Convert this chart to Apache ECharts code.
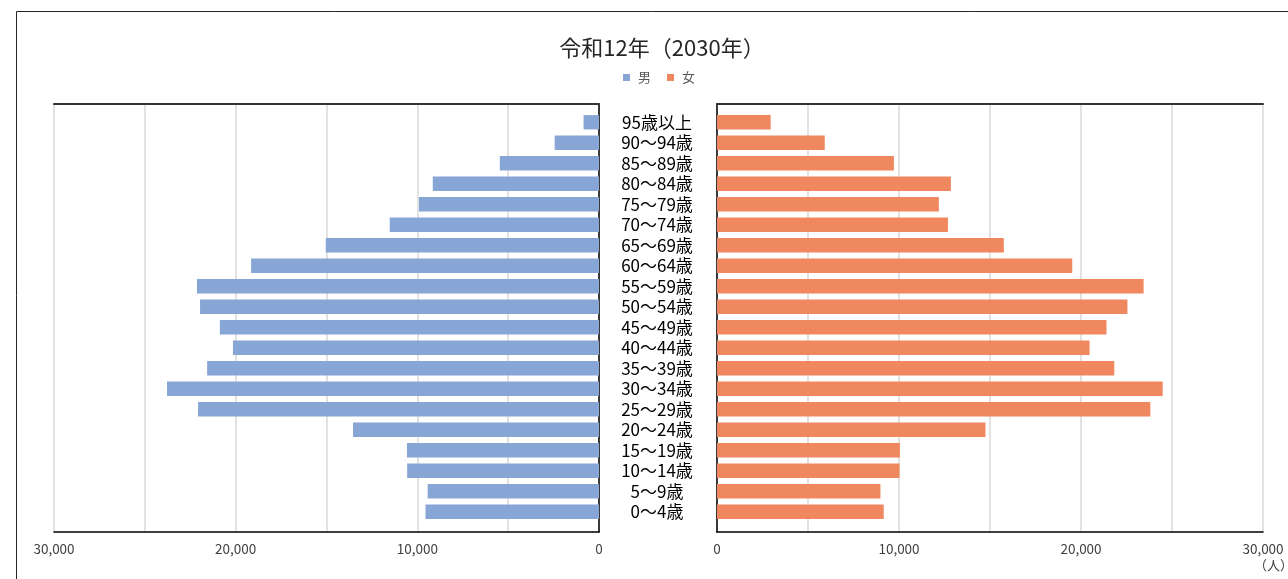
<!DOCTYPE html>
<html>
<head>
<meta charset="utf-8">
<script src="https://cdn.jsdelivr.net/npm/echarts@6/dist/echarts.min.js"></script>
<style>
  html, body { margin: 0; padding: 0; background: #fff; }
  #chart { width: 1288px; height: 579px; }
</style>
</head>
<body>
<div id="chart"></div>
<script>
// Age groups, listed from youngest (bottom) to oldest (top)
const ageGroups = ['0～4歳', '5～9歳', '10～14歳', '15～19歳', '20～24歳', '25～29歳', '30～34歳',
  '35～39歳', '40～44歳', '45～49歳', '50～54歳', '55～59歳', '60～64歳', '65～69歳',
  '70～74歳', '75～79歳', '80～84歳', '85～89歳', '90～94歳', '95歳以上'];

// Projected population (people) for 2030
const male = [9550, 9430, 10560, 10570, 13540, 22070, 23780, 21570, 20150, 20870,
  21960, 22130, 19150, 15040, 11520, 9910, 9150, 5460, 2440, 850];
const female = [9160, 8980, 10030, 10050, 14750, 23810, 24490, 21830, 20470, 21400,
  22550, 23440, 19520, 15760, 12690, 12190, 12850, 9720, 5920, 2950];

const seriesNames = ['男', '女'];
const axisMax = 30000;
const gridStep = 5000;
const labelStep = 10000;

const FONT = '"Noto Sans CJK JP", "Noto Sans", sans-serif';
const MALE_COLOR = '#87a5d5';
const FEMALE_COLOR = '#f0885f';

const tickLabel = v => (v % labelStep === 0 ? v.toLocaleString('en-US') : '');

// Frame grids carry the gridlines and axis lines, bar grids carry the bars
const frameLeft = { left: 54, width: 545, top: 104, height: 428 };
const frameRight = { left: 717, width: 546, top: 104, height: 428 };
const barLeft = { left: 54, width: 545, top: 112, height: 410 };
const barRight = { left: 717, width: 546, top: 112, height: 410 };

function frameX(gridIndex, inverse) {
  return [
    {
      type: 'value', gridIndex, inverse, min: 0, max: axisMax, interval: gridStep,
      position: 'bottom',
      axisLine: { show: true, onZero: false, lineStyle: { color: '#000', width: 1.5 } },
      axisTick: { show: false },
      axisLabel: { formatter: tickLabel, color: '#404040', fontSize: 13.5, fontFamily: FONT, margin: 10 },
      splitLine: { show: true, lineStyle: { color: '#d9d9d9', width: 1.5 } }
    },
    {
      type: 'value', gridIndex, inverse, min: 0, max: axisMax, position: 'top',
      axisLine: { show: true, onZero: false, lineStyle: { color: '#333', width: 2 } },
      axisTick: { show: false }, axisLabel: { show: false }, splitLine: { show: false }
    }
  ];
}

function frameY(gridIndex, position) {
  return {
    type: 'value', gridIndex, min: 0, max: 1, position,
    axisLine: { show: true, onZero: true, lineStyle: { color: '#000', width: 1.5 } },
    axisTick: { show: false }, axisLabel: { show: false }, splitLine: { show: false }
  };
}

function hiddenX(gridIndex, inverse) {
  return { type: 'value', gridIndex, inverse, min: 0, max: axisMax, show: false };
}

const option = {
  backgroundColor: '#fff',
  animation: false,
  title: {
    text: '令和12年（2030年）',
    left: 657, top: 32, textAlign: 'center',
    textStyle: { fontFamily: FONT, fontSize: 22, fontWeight: 'normal', color: '#262626' }
  },
  legend: {
    data: seriesNames,
    left: 618, top: 66,
    icon: 'rect', itemWidth: 7, itemHeight: 7, itemGap: 16,
    textStyle: { fontFamily: FONT, fontSize: 13, color: '#595959', padding: [0, 0, 0, 3] }
  },
  grid: [frameLeft, barLeft, frameRight, barRight],
  xAxis: [
    ...frameX(0, true),
    hiddenX(1, true),
    ...frameX(2, false),
    hiddenX(3, false)
  ],
  yAxis: [
    frameY(0, 'right'),
    { type: 'category', gridIndex: 1, data: ageGroups, show: false },
    frameY(2, 'left'),
    {
      type: 'category', gridIndex: 3, data: ageGroups, position: 'left',
      axisLine: { show: false }, axisTick: { show: false },
      axisLabel: {
        interval: 0, align: 'center', margin: 60, fontSize: 17, color: '#000',
        fontFamily: FONT, padding: [3, 0, 0, 0]
      }
    }
  ],
  series: [
    {
      name: seriesNames[0], type: 'bar', xAxisIndex: 2, yAxisIndex: 1,
      data: male, barWidth: '70%', itemStyle: { color: MALE_COLOR }
    },
    {
      name: seriesNames[1], type: 'bar', xAxisIndex: 5, yAxisIndex: 3,
      data: female, barWidth: '70%', itemStyle: { color: FEMALE_COLOR }
    }
  ],
  graphic: [
    {
      type: 'rect', silent: true, z: -1,
      shape: { x: 16.5, y: 11.5, width: 1400, height: 700 },
      style: { fill: null, stroke: '#262626', lineWidth: 1 }
    },
    {
      type: 'text', left: 1254, top: 559,
      style: { text: '（人）', fontFamily: FONT, fontSize: 13, fill: '#404040' }
    }
  ]
};

const chart = echarts.init(document.getElementById('chart'), null, { renderer: 'canvas' });
chart.setOption(option);
</script>
</body>
</html>
